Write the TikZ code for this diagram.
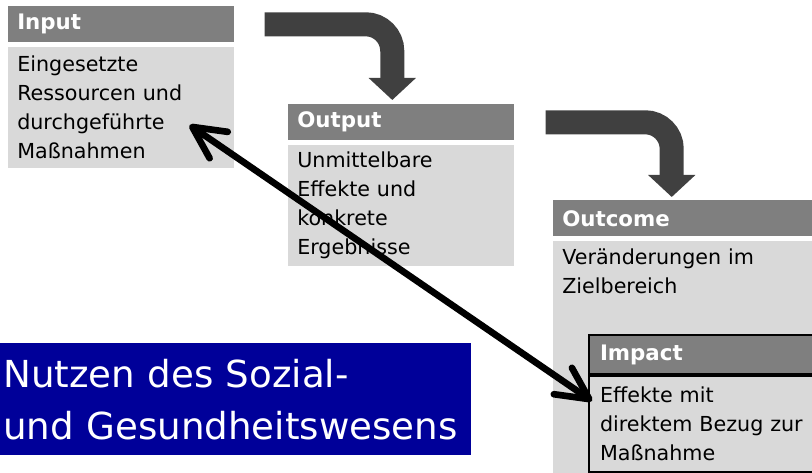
\documentclass[tikz,border=0pt]{standalone}
\usepackage{fontspec}
\setmainfont{DejaVu Sans}
\usepackage{xcolor}
\usetikzlibrary{positioning, arrows.meta}

\definecolor{headgrey}{HTML}{7F7F7F}
\definecolor{bodygrey}{HTML}{D9D9D9}
\definecolor{bendgrey}{HTML}{404040}
\definecolor{navy}{HTML}{000099}

\begin{document}
\begin{tikzpicture}[
        x=0.75pt, y=-0.75pt,
        % Styles for the four stages
        boxhead/.style={rectangle, fill=headgrey, anchor=north west, inner xsep=6.75pt,
                inner ysep=0pt, minimum height=27pt, text width=156pt, align=left,
                text=white, font=\bfseries\fontsize{16pt}{19pt}\selectfont},
        boxbody/.style={rectangle, fill=bodygrey, inner xsep=6.75pt, inner ysep=4pt,
                text width=156pt, align=left, font=\fontsize{15.5pt}{21.75pt}\selectfont},
        bentarrow/.style={draw=bendgrey, line width=18pt, rounded corners=20pt,
                -{Triangle[length=16.5pt, width=34.5pt]}},
        twoway/.style={>={Straight Barb[length=24pt, width=24pt, round]}, <->,
                line width=5pt, black},
    ]
    \useasboundingbox (0,0) rectangle (812,473);

    % === INPUT ===
    \node[boxhead] (inhead) at (8,6) {Input};
    \node[boxbody, minimum height=90.75pt, below=3pt of inhead.south west,
        anchor=north west] (inbody) {Eingesetzte\\Ressourcen und\\durchgeführte\\Maßnahmen};

    % === OUTPUT ===
    \node[boxhead] (outhead) at (288,104) {Output};
    \node[boxbody, minimum height=90.75pt, below=3pt of outhead.south west,
        anchor=north west] (outbody) {Unmittelbare\\Effekte und\\konkrete\\Ergebnisse};

    % === OUTCOME ===
    \node[boxhead, text width=183pt] (ochead) at (553,200) {Outcome};
    \node[boxbody, text width=183pt, inner ysep=6pt,
        below=3pt of ochead.south west, anchor=north west] (ocbody)
        {\parbox[t][175pt][t]{183pt}{\raggedright Veränderungen im\\Zielbereich}};

    % === IMPACT (inside Outcome) ===
    \node[boxhead, draw=black, line width=1.5pt, text width=165pt, inner xsep=8.25pt,
        minimum height=29.25pt] (imphead) at (588,334) {Impact};
    \node[boxbody, draw=black, line width=1.5pt, text width=165pt, inner xsep=8.25pt,
        minimum height=72pt, below=0pt of imphead.south west,
        anchor=north west] (impbody) {Effekte mit\\direktem Bezug zur\\Maßnahme};

    % === BENEFIT BANNER ===
    \node[rectangle, fill=navy, text=white, anchor=north west, inner xsep=2.25pt,
        inner ysep=0pt, minimum height=84pt, text width=348.75pt, align=left,
        font=\fontsize{27.9pt}{39pt}\selectfont] (benefit) at (0,343)
        {Nutzen des Sozial-\\und~Gesundheitswesens};

    % === CONNECTIONS ===
    \draw[bentarrow] ([xshift=22.5pt]inhead.east) -| ([xshift=-6.75pt, yshift=3pt]outhead.north);
    \draw[bentarrow] ([xshift=23.25pt]outhead.east) -| ([xshift=-9.4pt, yshift=2.25pt]ochead.north);

    % Input <-> Impact
    \draw[twoway] ([xshift=-33.75pt, yshift=32.25pt]inbody.south east)
        -- ([xshift=3pt, yshift=17.25pt]impbody.west);

\end{tikzpicture}
\end{document}
